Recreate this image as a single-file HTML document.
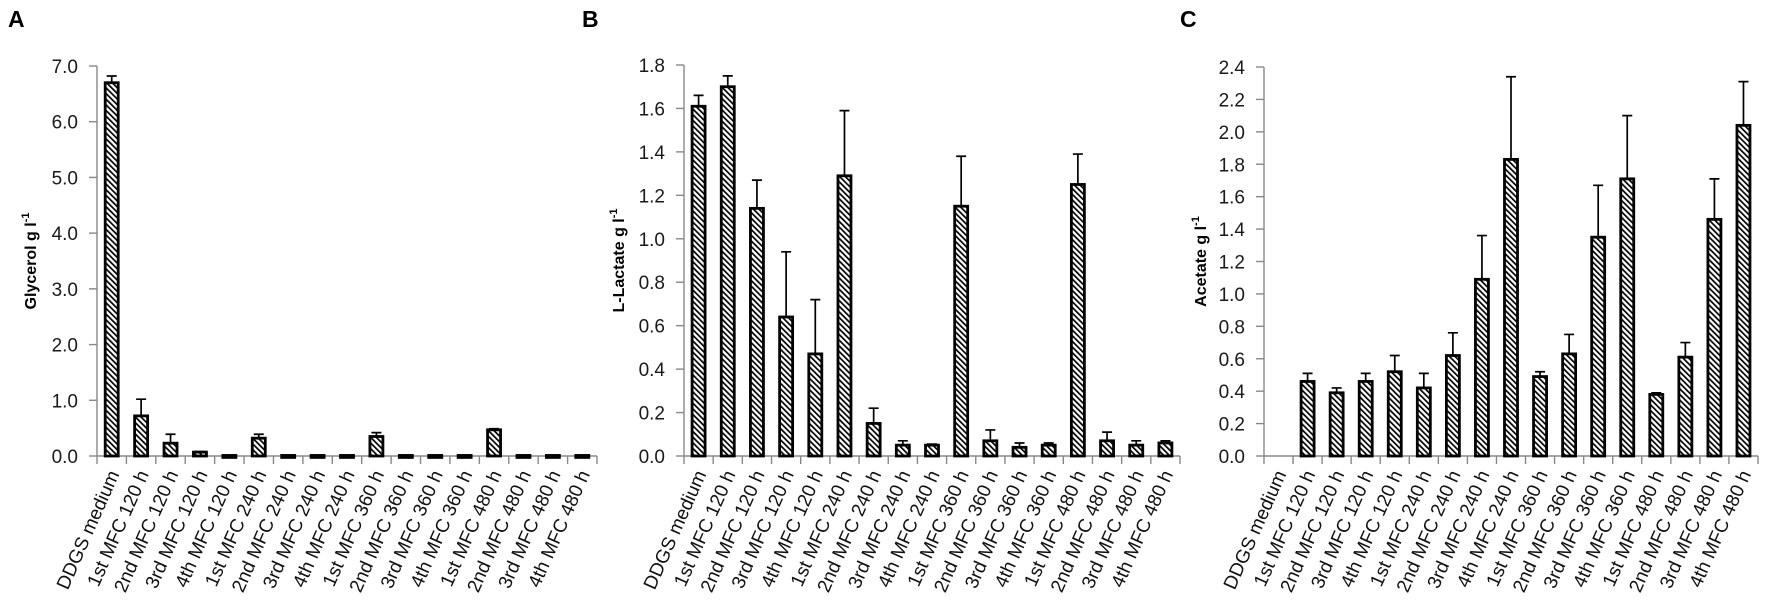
<!DOCTYPE html>
<html><head><meta charset="utf-8"><style>
html,body{margin:0;padding:0;background:#fff;}
svg{display:block;font-family:"Liberation Sans",sans-serif;}
</style></head><body>
<svg id="fig" width="1772" height="612" viewBox="0 0 1772 612">
<defs>
<pattern id="hatch" width="4" height="4" patternUnits="userSpaceOnUse" patternTransform="rotate(-45)">
<rect width="4" height="4" fill="#fff"/>
<rect x="0" y="0" width="1.7" height="4" fill="#000"/>
</pattern>
</defs>
</svg>
<script>
const categories = ["DDGS medium","1st MFC 120 h","2nd MFC 120 h","3rd MFC 120 h","4th MFC 120 h","1st MFC 240 h","2nd MFC 240 h","3rd MFC 240 h","4th MFC 240 h","1st MFC 360 h","2nd MFC 360 h","3rd MFC 360 h","4th MFC 360 h","1st MFC 480 h","2nd MFC 480 h","3rd MFC 480 h","4th MFC 480 h"];
const glycerolValues = [6.7,0.72,0.23,0.07,0.01,0.32,0.01,0.01,0.01,0.35,0.01,0.01,0.01,0.47,0.01,0.01,0.01];
const glycerolErrors = [0.12,0.30,0.16,0.01,0,0.07,0,0,0,0.07,0,0,0,0.02,0,0,0];
const lactateValues = [1.61,1.70,1.14,0.64,0.47,1.29,0.15,0.05,0.05,1.15,0.07,0.04,0.05,1.25,0.07,0.05,0.06];
const lactateErrors = [0.05,0.05,0.13,0.30,0.25,0.30,0.07,0.02,0.005,0.23,0.05,0.02,0.01,0.14,0.04,0.02,0.01];
const acetateValues = [0,0.46,0.39,0.46,0.52,0.42,0.62,1.09,1.83,0.49,0.63,1.35,1.71,0.38,0.61,1.46,2.04];
const acetateErrors = [0,0.05,0.03,0.05,0.10,0.09,0.14,0.27,0.51,0.03,0.12,0.32,0.39,0.01,0.09,0.25,0.27];
const glycerolTicks = ["0.0","1.0","2.0","3.0","4.0","5.0","6.0","7.0"];
const lactateTicks = ["0.0","0.2","0.4","0.6","0.8","1.0","1.2","1.4","1.6","1.8"];
const acetateTicks = ["0.0","0.2","0.4","0.6","0.8","1.0","1.2","1.4","1.6","1.8","2.0","2.2","2.4"];

const NS="http://www.w3.org/2000/svg";
const svg=document.getElementById('fig');
function mk(tag,attrs,parent){const e=document.createElementNS(NS,tag);for(const k in attrs)e.setAttribute(k,attrs[k]);(parent||svg).appendChild(e);return e;}

function panel(opt){
  const g=mk('g',{});
  
  
  const x0=opt.x0,x1=opt.x1,y0=456,yTop=opt.yTop,max=opt.max;
  const yScale=v=>y0-(v/max)*(y0-yTop);
  const n=categories.length, step=(x1-x0)/n;
  const xScale=i=>x0+step*(i+0.5);
  const letter=mk('text',{x:opt.letterX,y:27,'font-size':23,'font-weight':'bold',fill:'#000'},g);
  letter.textContent=opt.letter;
  
  
  const ya=mk('line',{x1:x0,y1:yTop,x2:x0,y2:y0,stroke:'#888','stroke-width':1.4},g);
  
  
  opt.ticks.forEach((t)=>{
    const v=parseFloat(t), y=yScale(v);
    mk('line',{x1:x0-8,y1:y,x2:x0,y2:y,stroke:'#888','stroke-width':1.4},g);
    const tx=mk('text',{x:x0-19,y:y+7,'font-size':19,'text-anchor':'end',fill:'#1a1a1a'},g);
    tx.textContent=t;
    
    
  });
  const xa=mk('line',{x1:x0,y1:y0,x2:x1,y2:y0,stroke:'#888','stroke-width':1.4},g);
  
  
  for(let i=0;i<=n;i++){const x=x0+step*i;mk('line',{x1:x,y1:y0,x2:x,y2:y0+8,stroke:'#888','stroke-width':1.4},g);}
  const cy=(yTop+y0)/2;
  const yt=mk('text',{x:0,y:0,'font-size':16,'font-weight':'bold','text-anchor':'middle',fill:'#000',transform:`translate(${opt.titleX},${cy}) rotate(-90)`},g);
  yt.innerHTML=opt.title+' g l<tspan dy="-7" font-size="11">-1</tspan>';
  
  
  const bw=13;
  opt.values.forEach((v,i)=>{
    const cx=xScale(i), yv=yScale(v), h=y0-yv;
    if(v>0){
      const r=mk('rect',{x:cx-bw/2,y:yv,width:bw,height:Math.max(h,2),fill:'url(#hatch)',stroke:'#000','stroke-width':2.8},g);
      
      
    }
    const e=opt.errors[i];
    if(v>0 && e>0){
      const ye=yScale(v+e);
      const el=mk('path',{d:`M${cx},${yv} L${cx},${ye} M${cx-5},${ye} L${cx+5},${ye}`,stroke:'#000','stroke-width':1.7,fill:'none'},g);
      
      
    }
    const lt=mk('text',{x:0,y:0,'font-size':19,'text-anchor':'end',fill:'#111',transform:`translate(${cx+8},${y0+18}) rotate(-66)`},g);
    lt.textContent=categories[i];
    
    
  });
}
panel({id:'glycerol',letter:'A',letterX:8,x0:97,x1:597,yTop:66,max:7,ticks:glycerolTicks,values:glycerolValues,errors:glycerolErrors,title:'Glycerol',titleX:36});
panel({id:'lactate',letter:'B',letterX:582,x0:684,x1:1180,yTop:65,max:1.8,ticks:lactateTicks,values:lactateValues,errors:lactateErrors,title:'L-Lactate',titleX:624});
panel({id:'acetate',letter:'C',letterX:1180,x0:1264,x1:1758,yTop:67,max:2.4,ticks:acetateTicks,values:acetateValues,errors:acetateErrors,title:'Acetate',titleX:1206});
</script>
</body></html>
